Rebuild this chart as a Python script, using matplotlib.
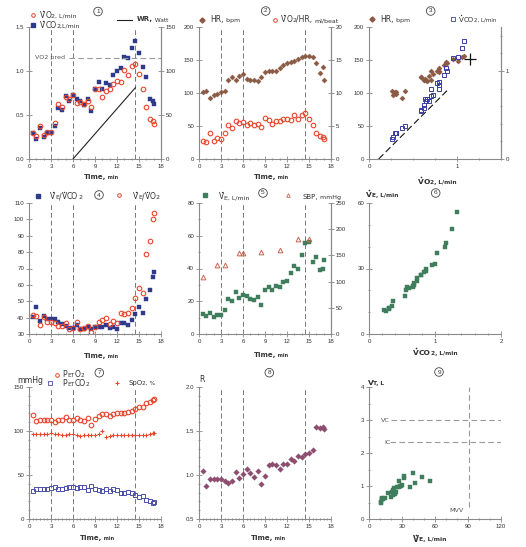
import matplotlib
matplotlib.use('Agg')
import matplotlib.pyplot as plt
from matplotlib.lines import Line2D
from matplotlib.ticker import MultipleLocator, FixedLocator, FormatStrFormatter

plt.rcParams['font.family'] = ['Liberation Sans', 'DejaVu Sans']

# ---------------- data ----------------
time = [0.5, 1.0, 1.5, 2.0, 2.5, 3.0, 3.5, 4.0, 4.5, 5.0, 5.5, 6.0, 6.5, 7.0, 7.5, 8.0, 8.5,
        9.0, 9.5, 10.0, 10.5, 11.0, 11.5, 12.0, 12.5, 13.0, 13.5, 14.0, 14.5, 15.0, 15.5,
        16.0, 16.5, 16.95, 17.05]
vo2 = [0.29, 0.26, 0.37, 0.27, 0.31, 0.31, 0.41, 0.63, 0.59, 0.71, 0.68, 0.73, 0.64, 0.65,
       0.62, 0.66, 0.59, 0.80, 0.79, 0.71, 0.77, 0.79, 0.85, 0.89, 0.88, 1.01, 0.95, 1.06,
       1.08, 0.97, 0.80, 0.59, 0.45, 0.43, 0.40]
vco2 = [0.30, 0.23, 0.35, 0.25, 0.30, 0.30, 0.37, 0.58, 0.56, 0.72, 0.66, 0.73, 0.68, 0.66,
        0.61, 0.68, 0.54, 0.79, 0.87, 0.79, 0.86, 0.84, 0.96, 1.00, 1.03, 1.16, 1.15, 1.26,
        1.34, 1.21, 1.04, 0.93, 0.68, 0.66, 0.62]
wr_time = [6.0, 14.5]
wr = [0, 81]
vo2_pred = 1.15
hr_pred = 151
hr = [102, 103, 93, 97, 99, 101, 103, 120, 125, 120, 126, 129, 121, 119, 119, 118, 124,
      132, 133, 134, 134, 138, 142, 145, 147, 149, 152, 154, 156, 156, 154, 146, 131, 140, 119]
o2_pulse = [2.8, 2.6, 3.9, 2.8, 3.2, 3.1, 3.9, 5.2, 4.7, 5.7, 5.4, 5.6, 5.2, 5.4, 5.2, 5.3,
            4.8, 6.2, 5.9, 5.3, 5.8, 5.8, 6.0, 6.1, 5.9, 6.6, 6.1, 6.7, 6.9, 6.1, 5.2, 4.0,
            3.5, 3.4, 3.1]
ve_vco2 = [40.1, 46.2, 37.7, 40.7, 39.3, 39.1, 39.3, 37.3, 36.3, 34.7, 33.6, 33.4, 35.3, 33.2,
           33.2, 34.5, 32.8, 34.5, 34.0, 34.5, 35.5, 33.8, 34.5, 33.2, 36.7, 36.7, 35.3, 38.7,
           42.1, 46.4, 42.6, 51.3, 56.9, 64.8, 68.1]
ve_vo2 = [41.5, 40.9, 35.5, 40.3, 37.5, 37.1, 36.5, 34.7, 34.7, 36.7, 33.2, 33.4, 37.1, 33.0,
          33.8, 34.9, 31.0, 34.3, 37.3, 38.3, 39.5, 36.1, 38.1, 36.7, 42.8, 42.3, 42.8, 45.6,
          51.9, 57.9, 54.9, 78.6, 86.9, 100.4, 103.7]
ve = [12.0, 11.0, 12.9, 10.6, 11.8, 11.4, 14.9, 21.4, 20.2, 25.5, 22.0, 24.1, 23.5, 21.6,
      21.0, 22.4, 17.6, 27.1, 29.0, 26.9, 29.6, 28.6, 31.8, 32.2, 37.1, 41.8, 40.0, 48.0,
      55.7, 56.1, 43.7, 46.9, 38.8, 39.6, 44.9]
sbp_time = [0.5, 2.5, 3.5, 5.5, 6.0, 8.5, 11.0, 13.5, 15.0]
sbp = [108, 131, 131, 154, 154, 156, 160, 182, 182]
peto2 = [118, 111, 113, 113, 113, 112, 110, 113, 113, 116, 112, 113, 115, 113, 111, 115, 107,
         114, 117, 119, 119, 117, 119, 120, 121, 121, 122, 123, 125, 127, 127, 132, 133, 135, 136]
petco2 = [32, 34, 34, 34, 34, 35, 36, 34, 34, 35, 36, 36, 35, 36, 36, 33, 38, 34, 33, 32, 34,
          32, 34, 33, 30, 30, 31, 29, 27, 25, 26, 22, 20, 18, 19]
spo2 = [97, 97, 97, 97, 97, 97.5, 97, 96.5, 96, 96, 97, 96.5, 95, 94.5, 95.5, 96, 96, 96,
        96.5, 99.5, 93, 94, 96, 96, 95.5, 95.5, 95, 95, 95, 95, 95, 96, 97, 98, 98]
rer = [1.05, 0.88, 0.95, 0.95, 0.95, 0.96, 0.93, 0.91, 0.93, 1.03, 0.97, 1.01, 1.07, 1.02,
       0.98, 1.04, 0.90, 0.99, 1.11, 1.13, 1.11, 1.07, 1.13, 1.13, 1.18, 1.16, 1.22, 1.20,
       1.24, 1.25, 1.28, 1.55, 1.53, 1.55, 1.52]
vt = [0.63, 0.52, 0.62, 0.47, 0.62, 0.60, 0.65, 0.72, 0.66, 0.98, 0.80, 0.83, 0.75, 0.88,
      0.83, 0.93, 0.78, 1.15, 1.00, 0.98, 1.02, 1.01, 1.25, 1.30, 0.96, 1.08, 1.39, 1.27, 1.16]
n_ex = 29          # exercise points (through peak at 14.5 min)
phase_lines = [3.0, 6.0, 14.5]
vc, ic, mvv = 3.0, 2.33, 91

# ---------------- style ----------------
W, H = 526, 547
fig = plt.figure(figsize=(W / 100, H / 100), dpi=100)
fig.patch.set_facecolor('white')
GRAY = '#8a8a8a'
TXT = '#333333'
RED = '#e8472e'
NAVY = '#2e3a8c'
BROWN = '#8b5a44'
GREEN = '#3f7d5c'
MAUVE = '#8c4d6e'
TRI = '#c8664f'
DASH = (0, (5, 3))
LBL = 'DejaVu Sans'

cols = [(29, 161), (199, 331), (369, 501)]
rows = [(27, 159), (203, 334), (387, 519)]


def fx(x):
    return x / W


def fy(y):
    return 1 - y / H


def axes_at(c, r):
    x0, x1 = cols[c]
    y0, y1 = rows[r]
    return fig.add_axes([fx(x0), fy(y1), (x1 - x0) / W, (y1 - y0) / H])


def style(ax, right=False, left=True):
    ax.spines['top'].set_visible(False)
    ax.spines['right'].set_visible(right)
    ax.spines['left'].set_visible(left)
    for s in ax.spines.values():
        s.set_color(GRAY)
        s.set_linewidth(0.8)
    ax.tick_params(which='both', direction='inout', colors=GRAY, labelcolor=TXT,
                   labelsize=4.4, width=0.6, pad=1.5)
    ax.tick_params(which='major', length=4)
    ax.tick_params(which='minor', length=2)
    ax.patch.set_alpha(0)


def twin(ax):
    t = ax.twinx()
    style(t, right=True, left=False)
    t.spines['bottom'].set_visible(False)
    return t


def vlines(ax):
    for t in phase_lines:
        ax.axvline(t, color='#777777', lw=0.7, ls=DASH, zorder=0)


def time_axis(ax):
    ax.set_xlim(0, 18)
    ax.xaxis.set_major_locator(MultipleLocator(3))
    ax.xaxis.set_minor_locator(MultipleLocator(1))


renderer = fig.canvas.get_renderer()
DV = '\u00a7'   # token for a dotted V


def mk(x, y, **kw):
    fig.add_artist(Line2D([fx(x)], [fy(y)], transform=fig.transFigure, ls='none', **kw))


def chain(x, y, parts, color=TXT):
    """Draw text pieces of mixed size side by side; x,y in pixels (baseline)."""
    for s, size, bold in parts:
        w = 'bold' if bold else 'normal'
        kw = dict(fontsize=size, fontweight=w, color=color, ha='left', va='baseline',
                  family=LBL)
        if s.startswith(DV):
            t = fig.text(fx(x), fy(y), 'V', **kw)
            vw = t.get_window_extent(renderer).width
            mk(x + vw / 2, y - size * 1.01 - 1.3, marker='o', ms=1.0 if not bold else 1.2,
               mfc=color, mec=color, mew=0)
            x += vw
            s = s[1:]
            if not s:
                continue
        t = fig.text(fx(x), fy(y), s, **kw)
        x += t.get_window_extent(renderer).width


def circled(x, y, n):
    fig.text(fx(x), fy(y), str(n), fontsize=4.6, color=TXT, ha='center', va='center',
             bbox=dict(boxstyle='circle,pad=0.28', fc='white', ec='#444444', lw=0.6))


def time_label(x, y):
    chain(x, y, [('Time,', 5.0, True), (' min', 3.6, True)])


def note(ax, x, y, s):
    ax.text(x, y, s, fontsize=4.6, color='#555555', va='center', ha='left', family=LBL)


M, S = 5.5, 4.5   # legend font sizes (main / small)
circ = dict(marker='o', ms=3.3, mfc='none', mec=RED, mew=0.8, ls='none')
sq = dict(marker='s', ms=2.6, mfc=NAVY, mec=NAVY, mew=0.3, ls='none')
dia = dict(marker='D', ms=2.7, mfc=BROWN, mec=BROWN, mew=0.2, ls='none')
gsq = dict(marker='s', ms=2.7, mfc=GREEN, mec=GREEN, mew=0.3, ls='none')

# ---------------- panel 1 ----------------
ax = axes_at(0, 0)
style(ax, right=True)
vlines(ax)
time_axis(ax)
ax.set_ylim(0, 1.5)
ax.yaxis.set_major_locator(MultipleLocator(0.5))
ax.yaxis.set_major_formatter(FormatStrFormatter('%.1f'))
ax.plot(time, vco2, **sq)
ax.plot(time, vo2, **circ)
ax.plot([5.4, 18], [vo2_pred, vo2_pred], color='#999999', lw=0.8, ls=DASH)
note(ax, 0.8, vo2_pred, 'VO2 pred')
t1 = twin(ax)
t1.set_ylim(0, 150)
t1.yaxis.set_major_locator(MultipleLocator(50))
t1.plot(wr_time, wr, color='#222222', lw=0.8)
mk(33, 15, marker='o', ms=2.6, mfc='none', mec=RED, mew=0.7)
chain(40, 18, [(DV + 'O', M, False), ('2, L/min', S, False)])
mk(33, 25, marker='s', ms=2.4, mfc=NAVY, mec=NAVY)
chain(40, 27.5, [(DV + 'CO', M, False), ('2,L/min', S, False)])
circled(98, 11.5, 1)
fig.add_artist(Line2D([fx(117), fx(132)], [fy(20), fy(20)], transform=fig.transFigure,
                      color='#222222', lw=0.8))
chain(137, 21.5, [('WR,', 5.0, True), (' Watt', 4.2, False)])
time_label(84, 179)

# ---------------- panel 2 ----------------
ax = axes_at(1, 0)
style(ax, right=True)
vlines(ax)
time_axis(ax)
ax.set_ylim(0, 200)
ax.yaxis.set_major_locator(MultipleLocator(50))
ax.plot(time, hr, **dia)
t2 = twin(ax)
t2.set_ylim(0, 20)
t2.yaxis.set_major_locator(MultipleLocator(5))
t2.plot(time, o2_pulse, **circ)
mk(202, 20, marker='D', ms=2.6, mfc=BROWN, mec=BROWN)
chain(210, 22.3, [('HR,', M, False), (' bpm', S, False)])
circled(265.7, 11, 2)
mk(275, 20, marker='o', ms=2.6, mfc='none', mec=RED, mew=0.7)
chain(281, 22.3, [(DV + 'O', M, False), ('2', S, False), ('/HR, ', M, False),
                  ('ml/beat', S, False)])
time_label(254, 179)

# ---------------- panel 3 ----------------
ax = axes_at(2, 0)
style(ax, right=True)
ax.set_xlim(0, 1.5)
ax.xaxis.set_major_locator(FixedLocator([0, 1]))
ax.xaxis.set_minor_locator(MultipleLocator(0.25))
ax.set_ylim(0, 200)
ax.yaxis.set_major_locator(MultipleLocator(50))
ax.plot(vo2[:n_ex], hr[:n_ex], **dia)
ax.plot([vo2_pred], [hr_pred], marker='+', ms=8, mec='#111111', mew=0.9, ls='none')
t3 = twin(ax)
t3.set_ylim(0, 1.5)
t3.yaxis.set_major_locator(FixedLocator([0, 1]))
t3.yaxis.set_minor_locator(MultipleLocator(0.2))
t3.plot([0.11, 0.89], [0.0, 0.78], color='#111111', lw=0.8, ls=(0, (6, 3)))
t3.plot(vo2[:n_ex], vco2[:n_ex], marker='s', ms=2.8, mfc='none', mec='#3b3fa0', mew=0.7,
        ls='none')
mk(372, 19.3, marker='D', ms=2.6, mfc=BROWN, mec=BROWN)
chain(380, 21.8, [('HR,', M, False), (' bpm', S, False)])
circled(430.7, 11, 3)
mk(453, 19.3, marker='s', ms=2.5, mfc='none', mec='#3b3fa0', mew=0.6)
chain(459, 21.8, [(DV + 'CO', 5.0, False), ('2, L/min', 4.0, False)])
chain(418, 184, [(DV + 'O', 5.4, True), ('2, L/min', 4.2, True)])

# ---------------- panel 4 ----------------
ax = axes_at(0, 1)
style(ax)
vlines(ax)
time_axis(ax)
ax.set_ylim(30, 110)
ax.yaxis.set_major_locator(MultipleLocator(10))
ax.plot(time, ve_vco2, **sq)
ax.plot(time, ve_vo2, **circ)
mk(37.7, 196, marker='s', ms=2.4, mfc=NAVY, mec=NAVY)
chain(50, 199, [(DV, M, False), ('E', S, False), ('/', M, False), (DV + 'CO', M, False),
                ('2', S, False)])
circled(99, 195, 4)
mk(119, 195, marker='o', ms=2.6, mfc='none', mec=RED, mew=0.7)
chain(133, 199, [(DV, M, False), ('E', S, False), ('/', M, False), (DV + 'O', M, False),
                 ('2', S, False)])
time_label(84, 358)

# ---------------- panel 5 ----------------
ax = axes_at(1, 1)
style(ax, right=True)
vlines(ax)
time_axis(ax)
ax.set_ylim(0, 80)
ax.yaxis.set_major_locator(MultipleLocator(20))
ax.yaxis.set_minor_locator(MultipleLocator(10))
ax.plot(time, ve, **gsq)
t5 = twin(ax)
t5.set_ylim(0, 250)
t5.yaxis.set_major_locator(MultipleLocator(50))
t5.plot(sbp_time, sbp, marker='^', ms=3.4, mfc='none', mec=TRI, mew=0.7, ls='none')
mk(205, 195, marker='s', ms=2.4, mfc=GREEN, mec=GREEN)
chain(219, 199, [(DV, M, False), ('E, L/min', S, False)])
circled(263, 193, 5)
mk(288, 195.5, marker='^', ms=2.6, mfc='none', mec=TRI, mew=0.6)
chain(302.5, 199, [('SBP,', 5.0, False), (' mmHg', S, False)])
time_label(254, 357)

# ---------------- panel 6 ----------------
ax = axes_at(2, 1)
style(ax)
ax.set_xlim(0, 2)
ax.xaxis.set_major_locator(MultipleLocator(1))
ax.xaxis.set_minor_locator(MultipleLocator(0.2))
ax.set_ylim(0, 60)
ax.yaxis.set_major_locator(MultipleLocator(30))
ax.yaxis.set_minor_locator(MultipleLocator(10))
ax.plot(vco2[:n_ex], ve[:n_ex], **gsq)
chain(366, 197, [(DV, 5.4, True), ('E, L/min', 4.2, True)])
circled(435.7, 193, 6)
chain(413, 355, [(DV + 'CO', 5.4, True), ('2, L/min', 4.2, True)])

# ---------------- panel 7 ----------------
ax = axes_at(0, 2)
style(ax)
vlines(ax)
time_axis(ax)
ax.xaxis.set_minor_locator(MultipleLocator(0.5))
ax.set_ylim(0, 150)
ax.yaxis.set_major_locator(MultipleLocator(50))
ax.yaxis.set_minor_locator(MultipleLocator(10))
ax.plot(time, petco2, marker='s', ms=2.8, mfc='none', mec='#4a4fa6', mew=0.7, ls='none')
ax.plot(time, spo2, marker='+', ms=3.0, mec=RED, mew=0.8, ls='none')
ax.plot(time, peto2, **circ)
chain(17.3, 382.7, [('mmHg', 5.6, False)])
mk(56.7, 375, marker='o', ms=2.6, mfc='none', mec=RED, mew=0.7)
chain(62.7, 377.3, [('P', M, False), ('ET', 4.2, False), ('O', M, False), ('2', 4.2, False)])
mk(50, 383.3, marker='s', ms=2.4, mfc='none', mec='#4a4fa6', mew=0.6)
chain(62.7, 385.7, [('P', M, False), ('ET', 4.2, False), ('CO', M, False),
                    ('2', 4.2, False)])
circled(99.3, 372.7, 7)
mk(117.3, 382.7, marker='+', ms=2.8, mec=RED, mew=0.8)
chain(128.3, 385, [('SpO', 5.0, False), ('2, %', 4.2, False)])
time_label(80, 540)

# ---------------- panel 8 ----------------
ax = axes_at(1, 2)
style(ax)
vlines(ax)
time_axis(ax)
ax.xaxis.set_minor_locator(MultipleLocator(0.5))
ax.set_ylim(0.5, 2.0)
ax.yaxis.set_major_locator(MultipleLocator(0.5))
ax.yaxis.set_minor_locator(MultipleLocator(0.1))
ax.yaxis.set_major_formatter(FormatStrFormatter('%.1f'))
ax.plot(time, rer, marker='D', ms=2.9, mfc=MAUVE, mec=MAUVE, mew=0.2, ls='none')
chain(199.3, 382, [('R', 5.6, False)])
circled(269.3, 372.7, 8)
time_label(251, 540)

# ---------------- panel 9 ----------------
ax = axes_at(2, 2)
style(ax)
ax.set_xlim(0, 120)
ax.xaxis.set_major_locator(MultipleLocator(30))
ax.xaxis.set_minor_locator(MultipleLocator(10))
ax.set_ylim(0, 4)
ax.yaxis.set_major_locator(MultipleLocator(1))
ax.yaxis.set_minor_locator(MultipleLocator(0.5))
ax.plot([20, 120], [vc, vc], color='#999999', lw=0.8, ls=DASH)
ax.plot([19, 120], [ic, ic], color='#999999', lw=0.8, ls=DASH)
ax.plot([mvv, mvv], [0.37, 4], color='#999999', lw=0.8, ls=DASH)
note(ax, 11, vc, 'VC')
note(ax, 14, ic, 'IC')
note(ax, 73, 0.25, 'MVV')
ax.plot(ve[:n_ex], vt, **gsq)
chain(367.7, 385, [('V', 5.4, True), ('T, L', 4.2, True)])
circled(439, 372, 9)
chain(413, 541.5, [(DV, 5.6, True), ('E, L/min', 4.4, True)])

fig.savefig('out.png', dpi=100)
